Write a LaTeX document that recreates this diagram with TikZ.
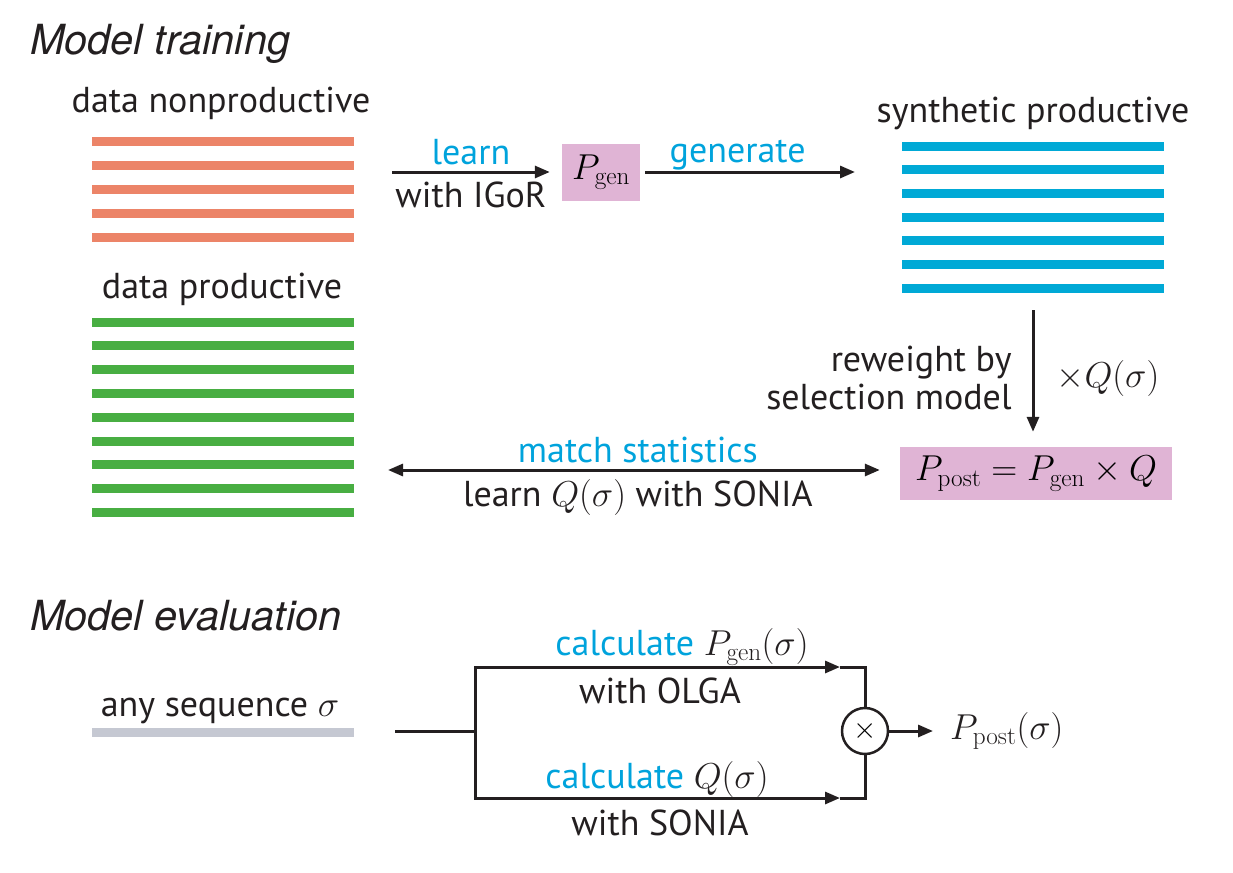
\RequirePackage{fix-cm}
\documentclass[tikz,border=0pt]{standalone}
\usepackage[no-math]{fontspec}
\setmainfont{PT Sans}
\newfontfamily\headfont{TeX Gyre Heros}
\usepackage{tikz}
\usetikzlibrary{arrows.meta,positioning,calc}
\usepackage{xcolor}
\definecolor{ink}{HTML}{231F20}
\definecolor{cyanword}{HTML}{00A3DC}
\definecolor{nonprod}{HTML}{EC8468}
\definecolor{prod}{HTML}{48AE42}
\definecolor{synth}{HTML}{00A9D6}
\definecolor{anyseq}{HTML}{C5C8D2}
\definecolor{boxpink}{HTML}{E0B4D5}
\tikzset{
  head/.style={anchor=base west,inner sep=0pt,text=ink,
    font=\headfont\itshape\fontsize{41.5}{46}\selectfont},
  txt/.style={inner sep=0pt,text=ink,font=\fontsize{36}{38}\selectfont,align=center},
  txt_blue/.style={txt,text=cyanword},
  seq_line/.style={line width=9pt},
  model_box/.style={fill=boxpink,inner sep=0pt,font=\fontsize{36}{38}\selectfont},
  arr/.style={-{Triangle[length=15pt,width=12pt]},draw=ink,line width=3pt},
  arr_both/.style={{Triangle[length=15pt,width=12pt]}-{Triangle[length=15pt,width=12pt]},draw=ink,line width=3pt},
  wire/.style={draw=ink,line width=3pt},
}

\begin{document}
\begin{tikzpicture}[x=1pt,y=-1pt]
  \useasboundingbox (0,0) rectangle (1233,872);

  % training
  \node[head] (traintitle) at (30,55) {Model training};

  \node[txt,anchor=base] (nonprodlbl) at (221,113) {data nonproductive};
  \foreach \y in {141,165,189,213,237}
    \draw[seq_line,nonprod] (92,\y) -- (354,\y);

  \node[txt,anchor=base] (prodlbl) at (222,298) {data productive};
  \foreach \i in {0,...,8}
    \draw[seq_line,prod] (92,322+23.8*\i) -- (354,322+23.8*\i);

  \node[txt,anchor=base] (synthlbl) at (1033,123) {synthetic productive};
  \foreach \i in {0,...,6}
    \draw[seq_line,synth] (902,146+23.7*\i) -- (1164,146+23.7*\i);

  \node[model_box,minimum width=78pt,minimum height=57pt] (pgen) at (601,172) {$P_\mathrm{gen}$};
  \node[model_box,minimum width=272pt,minimum height=53pt] (ppost) at (1036,473.5)
    {$P_\mathrm{post}=P_\mathrm{gen}\times Q$};

  \coordinate (learnstart) at (392,172);
  \coordinate (genend) at (855,172);
  \coordinate (rwtop) at (1033,310);
  \coordinate (matchstart) at (388,470);

  \draw[arr,shorten >=12pt] (learnstart) -- (learnstart -| pgen.west)
    node[midway,above=6pt,xshift=-6pt,txt_blue] (learnlbl) {learn}
    node[midway,below=8pt,xshift=-6pt,txt] (igorlbl) {with IGoR};
  \draw[arr,shorten <=5pt] (pgen) -- (genend)
    node[midway,above=0pt,xshift=-10pt,txt_blue] (genlbl) {generate};
  \draw[arr,shorten >=15pt] (rwtop) -- (rwtop |- ppost.north)
    node[midway,left=20pt,txt,align=right] (rwlbl) {reweight by\\selection model}
    node[midway,right=22pt,txt] (qlbl) {$\times Q(\sigma)$};
  \draw[arr_both,shorten >=20pt] (matchstart) -- (matchstart -| ppost.west)
    node[midway,above=6pt,xshift=-6pt,txt_blue] (matchlbl) {match statistics}
    node[midway,below=8pt,xshift=-6pt,txt] (sonialbl) {learn $Q(\sigma)$ with SONIA};

  % evaluation
  \node[head] (evaltitle) at (30,630) {Model evaluation};

  \node[txt,anchor=base] (anylbl) at (220,716) {any sequence $\sigma$};
  \draw[seq_line,anyseq] (92,732) -- (354,732);

  \coordinate (seqend) at (395,731);
  \coordinate (fork) at (475,731);
  \coordinate (topmid) at (840,667);
  \coordinate (botmid) at (840,798);
  \node[circle,draw=ink,line width=2.5pt,minimum size=46pt,inner sep=0pt,
    font=\fontsize{30}{30}\selectfont] (mult) at (865,731) {$\times$};
  \node[txt,anchor=west] (postlbl) at (950,731) {$P_\mathrm{post}(\sigma)$};

  \draw[wire] (seqend) -- (fork);
  \draw[arr] (fork) |- (topmid);
  \draw[arr] (fork) |- (botmid);
  \draw[wire] (topmid) -| (mult.north);
  \draw[wire] (botmid) -| (mult.south);
  \draw[arr,shorten >=17pt] (mult) -- (postlbl);

  \node[txt,anchor=base] (olgacalc) at (682,655) {{\color{cyanword}calculate} $P_\mathrm{gen}(\sigma)$};
  \node[txt,anchor=base] (olgalbl) at (660,703) {with OLGA};
  \node[txt,anchor=base] (soniacalc) at (657,788) {{\color{cyanword}calculate} $Q(\sigma)$};
  \node[txt,anchor=base] (soniaeval) at (660,835) {with SONIA};
\end{tikzpicture}
\end{document}
